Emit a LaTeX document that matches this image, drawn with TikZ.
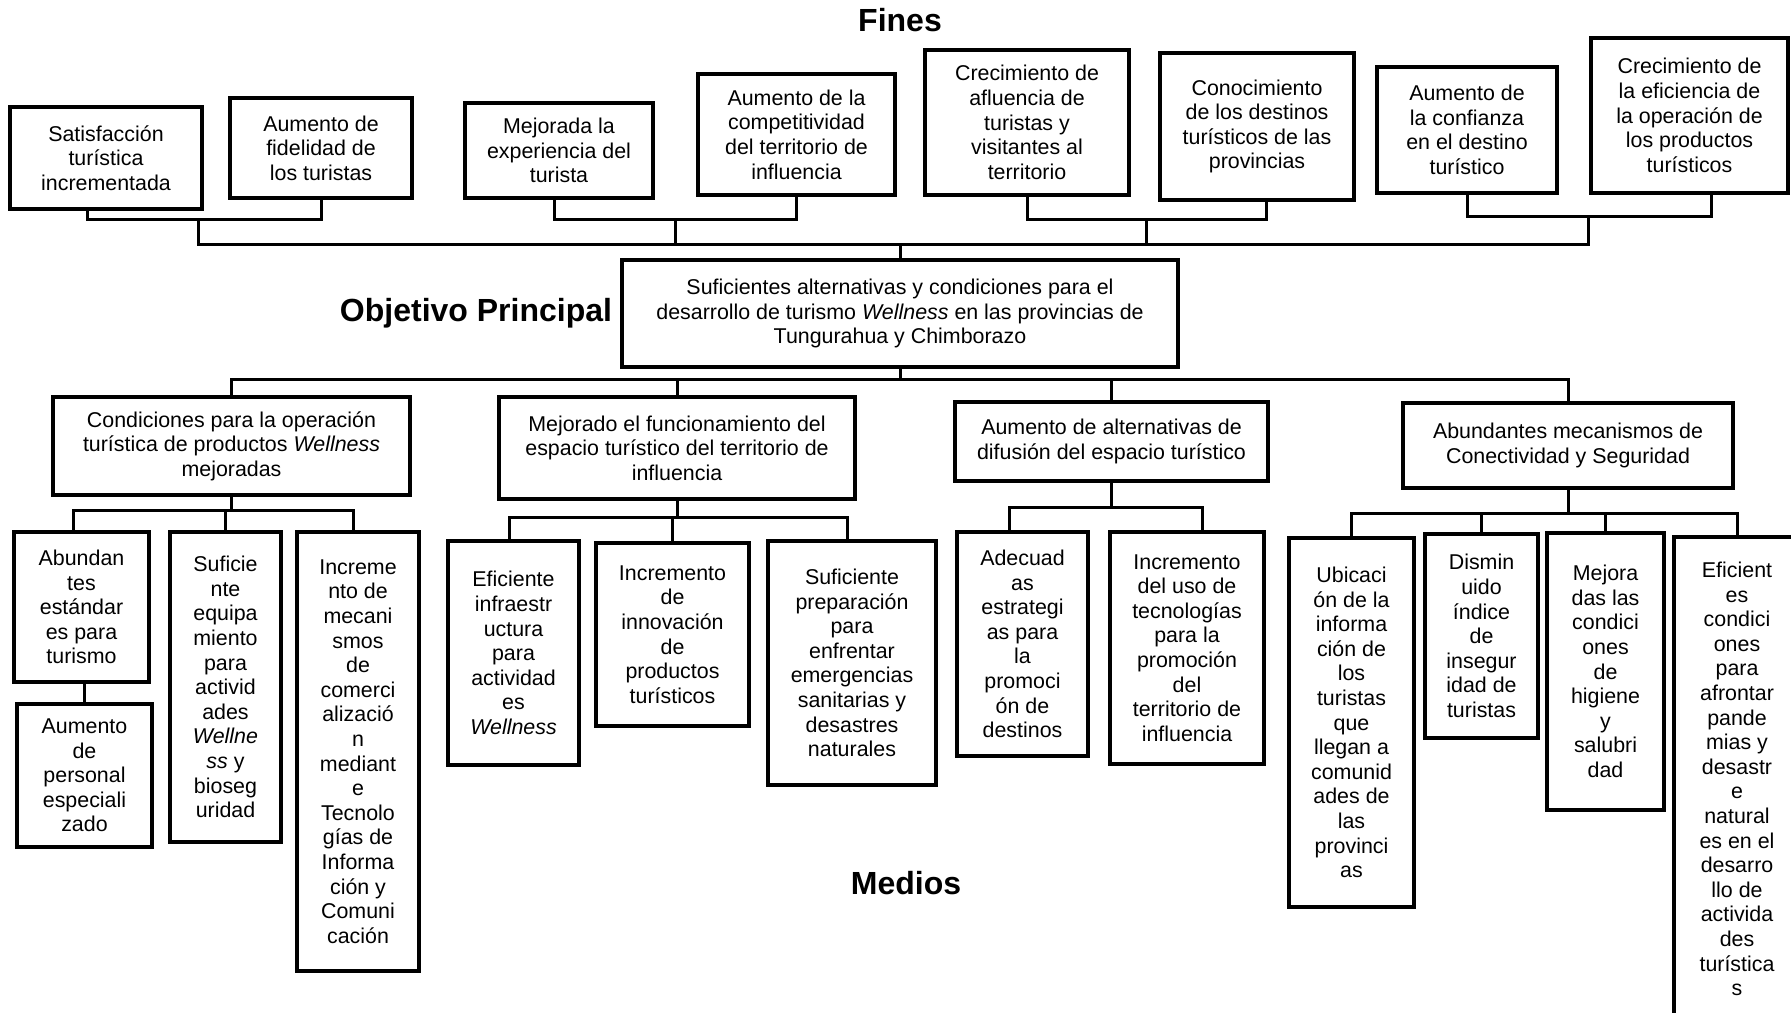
\documentclass[tikz,border=0pt]{standalone}
\usepackage{fontspec}
\setmainfont{Liberation Sans}
\usetikzlibrary{positioning}
\tikzset{
  caja/.style={rectangle, draw=black, line width=1.8pt, fill=white, text=black,
               align=center, inner sep=2pt, font=\fontsize{10.7}{12.3}\selectfont},
  titulo/.style={font=\fontsize{16}{19}\selectfont\bfseries},
  enlace/.style={line width=1.5pt},
}
\newcommand{\wel}{\textit{Wellness}}

\begin{document}
\begin{tikzpicture}[x=0.5pt, y=-0.5pt]
\path[fill=white, use as bounding box] (0,0) rectangle (1791,1012);

% titulos
\node[titulo] (fines) at (900,20) {Fines};
\node[titulo] (objetivo) at (476,313) {Objetivo Principal};
\node[titulo] (medios) at (906,883) {Medios};

% fines
\node[caja, minimum width=96pt, minimum height=51pt] (f1) at (106,158) {Satisfacción\\ turística\\ incrementada};
\node[caja, minimum width=91pt, minimum height=50pt] (f2) at (321,148) {Aumento de\\ fidelidad de\\ los turistas};
\node[caja, minimum width=94pt, minimum height=47.5pt] (f3) at (559,150.5) {Mejorada la\\ experiencia del\\ turista};
\node[caja, minimum width=98.5pt, minimum height=60.5pt] (f4) at (796.5,134.5) {Aumento de la\\ competitividad\\ del territorio de\\ influencia};
\node[caja, minimum width=102pt, minimum height=72.5pt] (f5) at (1027,122.5) {Crecimiento de\\ afluencia de\\ turistas y\\ visitantes al\\ territorio};
\node[caja, minimum width=97pt, minimum height=73.5pt] (f6) at (1257,126.5) {Conocimiento\\ de los destinos\\ turísticos de las\\ provincias};
\node[caja, minimum width=90pt, minimum height=63pt] (f7) at (1467,130) {Aumento de\\ la confianza\\ en el destino\\ turístico};
\node[caja, minimum width=98.5pt, minimum height=77.5pt] (f8) at (1689.5,115.5) {Crecimiento de\\ la eficiencia de\\ la operación de\\ los productos\\ turísticos};

% objetivo
\node[caja, minimum width=278pt, minimum height=53.5pt] (main) at (900,313.5) {Suficientes alternativas y condiciones para el\\ desarrollo de turismo \wel{} en las provincias de\\ Tungurahua y Chimborazo};

% medios
\node[caja, minimum width=178.5pt, minimum height=49pt] (A) at (231.5,446) {Condiciones para la operación\\ turística de productos \wel\\ mejoradas};
\node[caja, minimum width=178pt, minimum height=51pt] (B) at (677,448) {Mejorado el funcionamiento del\\ espacio turístico del territorio de\\ influencia};
\node[caja, minimum width=156.5pt, minimum height=39.5pt] (C) at (1111.5,441.5) {Aumento de alternativas de\\ difusión del espacio turístico};
\node[caja, minimum width=165pt, minimum height=42.5pt] (D) at (1568,445.5) {Abundantes mecanismos de\\ Conectividad y Seguridad};

\node[caja, minimum width=67.5pt, minimum height=75pt] (A1) at (81.5,607) {Abundan\\ tes\\ estándar\\ es para\\ turismo};
\node[caja, minimum width=67.5pt, minimum height=71.5pt] (A1a) at (84.5,775.5) {Aumento\\ de\\ personal\\ especiali\\ zado};
\node[caja, minimum width=55.5pt, minimum height=155pt] (A2) at (225.5,687) {Suficie\\ nte\\ equipa\\ miento\\ para\\ activid\\ ades\\ \textit{Wellne}\\ \textit{ss} y\\ bioseg\\ uridad};
\node[caja, minimum width=61pt, minimum height=219.5pt] (A3) at (358,751.5) {Increme\\ nto de\\ mecani\\ smos\\ de\\ comerci\\ alizació\\ n\\ mediant\\ e\\ Tecnolo\\ gías de\\ Informa\\ ción y\\ Comuni\\ cación};

\node[caja, minimum width=65.5pt, minimum height=112pt] (B1) at (513.5,653) {Eficiente\\ infraestr\\ uctura\\ para\\ actividad\\ es\\ \wel};
\node[caja, minimum width=76.5pt, minimum height=91.5pt] (B2) at (672.5,634.5) {Incremento\\ de\\ innovación\\ de\\ productos\\ turísticos};
\node[caja, minimum width=84pt, minimum height=122pt] (B3) at (852,663) {Suficiente\\ preparación\\ para\\ enfrentar\\ emergencias\\ sanitarias y\\ desastres\\ naturales};

\node[caja, minimum width=65.5pt, minimum height=112pt] (C1) at (1022.5,644) {Adecuad\\ as\\ estrategi\\ as para\\ la\\ promoci\\ ón de\\ destinos};
\node[caja, minimum width=77pt, minimum height=116pt] (C2) at (1187,648) {Incremento\\ del uso de\\ tecnologías\\ para la\\ promoción\\ del\\ territorio de\\ influencia};

\node[caja, minimum width=62.5pt, minimum height=184.5pt] (D1) at (1351.5,722.5) {Ubicaci\\ ón de la\\ informa\\ ción de\\ los\\ turistas\\ que\\ llegan a\\ comunid\\ ades de\\ las\\ provinci\\ as};
\node[caja, minimum width=56.5pt, minimum height=102pt] (D2) at (1481.5,636) {Dismin\\ uido\\ índice\\ de\\ insegur\\ idad de\\ turistas};
\node[caja, minimum width=58.5pt, minimum height=138.5pt] (D3) at (1605.5,671.5) {Mejora\\ das las\\ condici\\ ones\\ de\\ higiene\\ y\\ salubri\\ dad};
\node[caja, minimum width=63pt, minimum height=242pt] (D4) at (1737,779) {Eficient\\ es\\ condici\\ ones\\ para\\ afrontar\\ pande\\ mias y\\ desastr\\ e\\ natural\\ es en el\\ desarro\\ llo de\\ activida\\ des\\ turística\\ s};

% conectores de fines
\coordinate (b12) at (198,219);
\coordinate (b34) at (675,219);
\coordinate (b56) at (1146,219);
\coordinate (b78) at (1588,216);
\coordinate (hub) at (900,244);
\draw[enlace] ([xshift=-9.5pt]f1.south) |- (b12) -| (f2.south);
\draw[enlace] ([xshift=-2.5pt]f3.south) |- (b34) -| (f4.south);
\draw[enlace] (f5.south) |- (b56) -| ([xshift=4.5pt]f6.south);
\draw[enlace] (f7.south) |- (b78) -| ([xshift=11pt]f8.south);
\draw[enlace] (b12) |- (hub) -| (b78);
\foreach \c in {b34,b56}
  \draw[enlace] (\c) -- (\c |- hub);
\draw[enlace] (hub) -- (main.north);

% conectores de medios
\coordinate (mbar) at (900,379);
\draw[enlace] (main.south) -- (mbar);
\draw[enlace] (A.north) |- (mbar) -| (D.north);
\foreach \n in {B,C}
  \draw[enlace] (\n.north) -- (\n.north |- mbar);

\coordinate (ha) at (231.5,510);
\draw[enlace] (A.south) -- (ha);
\draw[enlace] ([xshift=-4pt]A1.north) |- (ha) -| ([xshift=-2.5pt]A3.north);
\draw[enlace] (A2.north) -- (A2.north |- ha);
\draw[enlace] (A1a.north) -- (A1a.north |- A1.south);

\coordinate (hb) at (677,517);
\draw[enlace] (B.south) -- (hb);
\draw[enlace] ([xshift=-2pt]B1.north) |- (hb) -| ([xshift=-2.5pt]B3.north);
\draw[enlace] (B2.north) -- (B2.north |- hb);

\coordinate (hc) at (1111.5,507);
\draw[enlace] (C.south) -- (hc);
\draw[enlace] ([xshift=-6.5pt]C1.north) |- (hc) -| ([xshift=7.5pt]C2.north);

\coordinate (hd) at (1568,513);
\draw[enlace] (D.south) -- (hd);
\draw[enlace] (D1.north) |- (hd) -| (D4.north);
\foreach \n in {D2,D3}
  \draw[enlace] (\n.north) -- (\n.north |- hd);
\end{tikzpicture}
\end{document}
